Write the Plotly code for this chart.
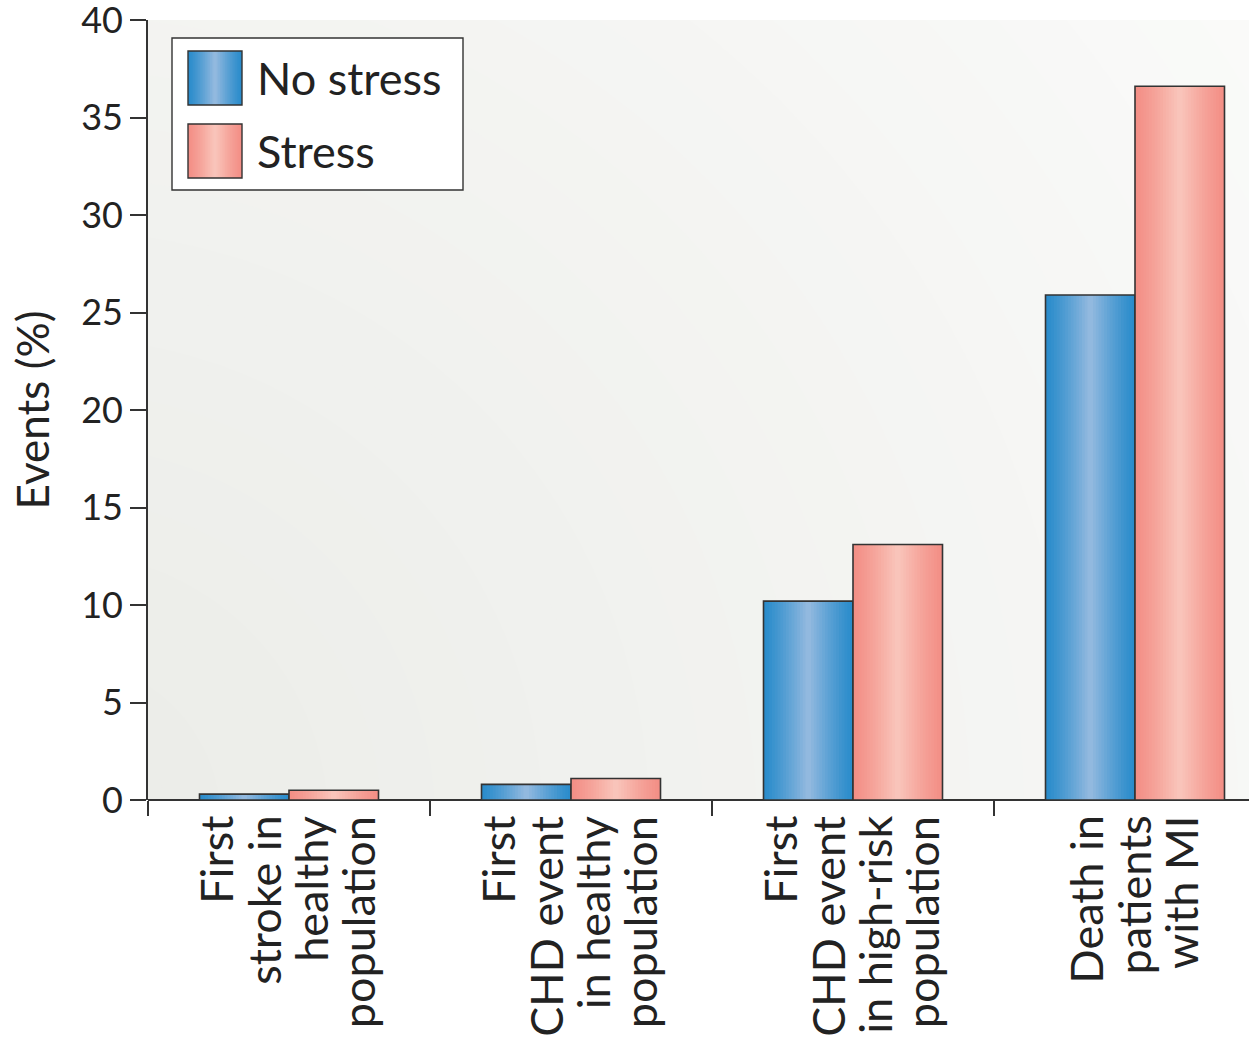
import plotly.graph_objects as go

# ---- data ----
categories = ["First stroke in healthy population",
              "First CHD event in healthy population",
              "First CHD event in high-risk population",
              "Death in patients with MI"]
label_lines = [["First", "stroke in", "healthy", "population"],
               ["First", "CHD event", "in healthy", "population"],
               ["First", "CHD event", "in high-risk", "population"],
               ["Death in", "patients", "with MI"]]
no_stress = [0.3, 0.8, 10.2, 25.9]
stress = [0.5, 1.1, 13.1, 36.6]
y_ticks = [0, 5, 10, 15, 20, 25, 30, 35, 40]
series_names = ["No stress", "Stress"]

FONT = "Lato"
x_pos = list(range(len(categories)))

# pixel geometry of the plot area
L, T, B, R = 148, 20, 240, 0
W_img, H_img = 1249, 1040
pw, ph = W_img - L - R, H_img - T - B
PX = 282.0  # px per category
x_range = [-0.5, -0.5 + pw / PX]

BW = 89.5 / PX  # bar width in category units

blue_edge, blue_mid = (43, 140, 203), (146, 185, 223)
pink_edge, pink_mid = (243, 143, 134), (249, 196, 186)


def mix(a, b, t):
    return "rgb(%d,%d,%d)" % tuple(round(a[i] + (b[i] - a[i]) * t) for i in range(3))


fig = go.Figure()

N = 16
for vals, side, ce, cm, name in [(no_stress, -1, blue_edge, blue_mid, series_names[0]),
                                 (stress, 1, pink_edge, pink_mid, series_names[1])]:
    center = side * BW / 2
    for k in range(N):
        f = 1 - k / N
        w = BW * f
        fig.add_trace(go.Bar(x=x_pos, y=vals, width=w, offset=center - w / 2,
                             marker=dict(color=mix(ce, cm, (k / (N - 1)) ** 1.2), line=dict(width=0)),
                             name=name, showlegend=False, hoverinfo="skip"))
    fig.add_trace(go.Bar(x=x_pos, y=vals, width=BW, offset=center - BW / 2,
                         marker=dict(color="rgba(0,0,0,0)", line=dict(color="#333333", width=1.6)),
                         name=name, showlegend=False))

shapes = []
# background radial gradient (decoration)
bg_c0, bg_c1 = (235, 236, 232), (251, 251, 250)
NS = 28
cx_px, cy_px = 60, 820
rmax = 1500
YPX = ph / 40.0
for i in range(NS):
    r = rmax * (1 - i / NS)
    t = i / (NS - 1)
    col = mix(bg_c1, bg_c0, t ** 0.9)
    cx = -0.5 + (cx_px - L) / PX
    cy = (800 - cy_px) / YPX
    rx, ry = r / PX, r / YPX
    shapes.append(dict(type="circle", xref="x", yref="y", layer="below",
                       x0=cx - rx, x1=cx + rx, y0=cy - ry, y1=cy + ry,
                       fillcolor=col, line=dict(width=0)))


def px2paper(xp, yp):
    return (xp - L) / pw, (T + ph - yp) / ph


# legend box
x0, y0 = px2paper(172, 190)
x1, y1 = px2paper(463, 38)
shapes.append(dict(type="rect", xref="paper", yref="paper", x0=x0, x1=x1, y0=y0, y1=y1,
                   fillcolor="white", line=dict(color="#333333", width=1.4), layer="above"))
annotations = []
for (ytop, ce, cm, name) in [(51, blue_edge, blue_mid, series_names[0]),
                              (124, pink_edge, pink_mid, series_names[1])]:
    sx0, sx1 = 188, 242
    sw = sx1 - sx0
    for k in range(N):
        f = 1 - k / N
        w = sw * f
        c = (sx0 + sx1) / 2
        a0, b0 = px2paper(c - w / 2, ytop + 54)
        a1, b1 = px2paper(c + w / 2, ytop)
        shapes.append(dict(type="rect", xref="paper", yref="paper", x0=a0, x1=a1, y0=b0, y1=b1,
                           fillcolor=mix(ce, cm, (k / (N - 1)) ** 1.2), line=dict(width=0), layer="above"))
    a0, b0 = px2paper(sx0, ytop + 54)
    a1, b1 = px2paper(sx1, ytop)
    shapes.append(dict(type="rect", xref="paper", yref="paper", x0=a0, x1=a1, y0=b0, y1=b1,
                       fillcolor="rgba(0,0,0,0)", line=dict(color="#333333", width=1.4), layer="above"))
    tx, ty = px2paper(255, ytop + 27)
    annotations.append(dict(text=name, xref="paper", yref="paper", x=tx, y=ty,
                            xanchor="left", yanchor="middle", showarrow=False,
                            font=dict(family=FONT, size=45, color="#222222")))

# category labels (rotated, one annotation per line)
LINE = 47.5 / PX
_, ylab = px2paper(0, 814)
for i, lines in enumerate(label_lines):
    n = len(lines)
    for k, line in enumerate(lines):
        annotations.append(dict(text=line, xref="x", yref="paper",
                                x=x_pos[i] + (k - (n - 1) / 2) * LINE - 2.0 / PX, y=ylab,
                                xanchor="center", yanchor="top", textangle=-90, showarrow=False,
                                font=dict(family=FONT, size=45, color="#222222")))

fig.update_layout(
    width=W_img, height=H_img,
    margin=dict(l=L, r=R, t=T, b=B, autoexpand=False),
    paper_bgcolor="white", plot_bgcolor="#f6f6f5",
    barmode="overlay", showlegend=False,
    shapes=shapes, annotations=annotations,
    font=dict(family=FONT, color="#222222"),
)
fig.update_xaxes(range=x_range, showgrid=False, zeroline=False, automargin=False,
                 showline=False, tickmode="array", tickvals=[-0.5, 0.5, 1.5, 2.5],
                 ticks="outside", ticklen=15, tickwidth=1.6, tickcolor="#333333",
                 showticklabels=False)
fig.update_yaxes(range=[0, 40], tickmode="array", tickvals=y_ticks, automargin=False,
                 ticktext=[str(v) for v in y_ticks], showgrid=False, zeroline=True,
                 zerolinecolor="#333333", zerolinewidth=1.6,
                 showline=True, linecolor="#333333", linewidth=1.6,
                 ticks="outside", ticklen=16, tickwidth=1.6, tickcolor="#333333",
                 ticklabeloverflow="allow",
                 tickfont=dict(family=FONT, size=36, color="#222222"), ticklabelstandoff=0,
                 title=dict(text="Events (%)", font=dict(family=FONT, size=44, color="#222222"), standoff=18))

fig.write_html("out.html")
